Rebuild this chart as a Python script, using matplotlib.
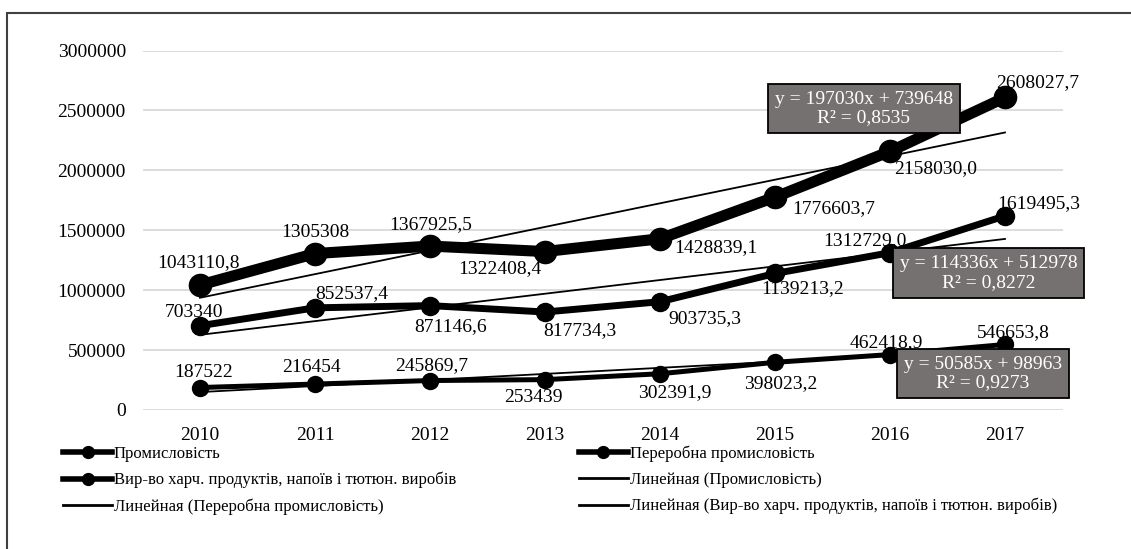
import numpy as np
import matplotlib
matplotlib.use("Agg")
import matplotlib.pyplot as plt
from matplotlib.lines import Line2D
from matplotlib.patches import Rectangle

# data
years = ["2010", "2011", "2012", "2013", "2014", "2015", "2016", "2017"]
names = ["Промисловість",
         "Переробна промисловість",
         "Вир-во харч. продуктів, напоїв і тютюн. виробів"]

industry = [1043110.8, 1305308, 1367925.5, 1322408.4, 1428839.1, 1776603.7, 2158030.0, 2608027.7]
processing = [703340, 852537.4, 871146.6, 817734.3, 903735.3, 1139213.2, 1312729.0, 1619495.3]
food = [187522, 216454, 245869.7, 253439, 302391.9, 398023.2, 462418.9, 546653.8]

industry_lbl = ["1043110,8", "1305308", "1367925,5", "1322408,4", "1428839,1", "1776603,7", "2158030,0", "2608027,7"]
processing_lbl = ["703340", "852537,4", "871146,6", "817734,3", "903735,3", "1139213,2", "1312729,0", "1619495,3"]
food_lbl = ["187522", "216454", "245869,7", "253439", "302391,9", "398023,2", "462418,9", "546653,8"]

# linear trend coefficients (slope, intercept, R2) as printed on the chart
trend_slope = [197030, 114336, 50585]
trend_icpt = [739648, 512978, 98963]
trend_r2 = ["0,8535", "0,8272", "0,9273"]

series = [industry, processing, food]
labels = [industry_lbl, processing_lbl, food_lbl]

# styles
lws = [8, 5, 3.6]
mss = [16, 13, 11.5]
# label offsets in pixels (dx, dy)
offs = [
    [(-2, 22), (0, 21), (1, 21), (-45, -17), (56, -9), (59, -11), (46, -17), (33, 15)],
    [(-6, 13), (37, 14), (21, -21), (35, -19), (45, -17), (28, -15), (-25, 12), (34, 12)],
    [(4, 15), (-4, 17), (2, 15), (-12, -18), (15, -19), (6, -21), (-4, 12), (8, 12)],
]
# equation box centres in pixels
box_xy = [(864, 108.5), (988.5, 273), (983, 373.5)]

plt.rcParams['font.family'] = ['Liberation Serif', 'DejaVu Serif']

W, H = 1131, 549
fig = plt.figure(figsize=(W / 100, H / 100), dpi=100)
ax = fig.add_axes([142.5 / W, 1 - 410 / H, 920 / W, 359.5 / H])

x = np.arange(len(years))
for k in range(3):
    ax.plot(x, series[k], color="black", lw=lws[k], marker="o", ms=mss[k],
            solid_capstyle="round", zorder=3)

for k in range(3):
    ty = trend_slope[k] * (x + 1) + trend_icpt[k]
    ax.plot(x, ty, color="black", lw=1.3, zorder=4)

for k in range(3):
    for i in range(len(years)):
        ax.annotate(labels[k][i], (x[i], series[k][i]), xytext=offs[k][i],
                    textcoords="offset pixels", ha="center", va="center",
                    fontsize=14, zorder=6)

for k in range(3):
    txt = "y = %dx + %d\nR² = %s" % (trend_slope[k], trend_icpt[k], trend_r2[k])
    bx, by = box_xy[k]
    fig.text(bx / W, 1 - by / H, txt, ha="center", va="center", color="white",
             fontsize=14, linespacing=1.15, zorder=10,
             bbox=dict(boxstyle="square,pad=0.35", facecolor="#767171",
                       edgecolor="black", lw=1.3))

ax.set_xlim(-0.5, 7.5)
ax.set_ylim(0, 3000000)
ax.set_yticks(np.arange(0, 3000001, 500000))
ax.set_yticklabels([str(v) for v in range(0, 3000001, 500000)])
ax.set_xticks(x)
ax.set_xticklabels(years)
ax.tick_params(axis="both", length=0, labelsize=14)
ax.tick_params(axis="x", pad=12)
ax.tick_params(axis="y", pad=12)
ax.grid(axis="y", color="#d9d9d9", lw=1.3)
ax.set_axisbelow(True)
for s in ax.spines.values():
    s.set_visible(False)

# legend, excel order filled column first
leg_h = [
    Line2D([], [], color="black", lw=4, marker="o", ms=8.5),
    Line2D([], [], color="black", lw=4, marker="o", ms=8.5),
    Line2D([], [], color="black", lw=2),
    Line2D([], [], color="black", lw=4, marker="o", ms=8.5),
    Line2D([], [], color="black", lw=2),
    Line2D([], [], color="black", lw=2),
]
leg_l = [names[0], names[2], "Линейная (" + names[1] + ")",
         names[1], "Линейная (" + names[0] + ")", "Линейная (" + names[2] + ")"]
fig.legend(leg_h, leg_l, ncol=2, loc="upper left",
           bbox_to_anchor=(55 / W, 1 - 437 / H), frameon=False, fontsize=12,
           handlelength=2.9, handletextpad=0.12, columnspacing=7.4,
           labelspacing=0.6, borderpad=0)

# outer frame
fig.add_artist(Rectangle((7 / W, -0.1), 1.2, 1.1 - 13 / H, transform=fig.transFigure,
                         fill=False, edgecolor="#404040", lw=1.5))

fig.savefig("out.png", dpi=100)
